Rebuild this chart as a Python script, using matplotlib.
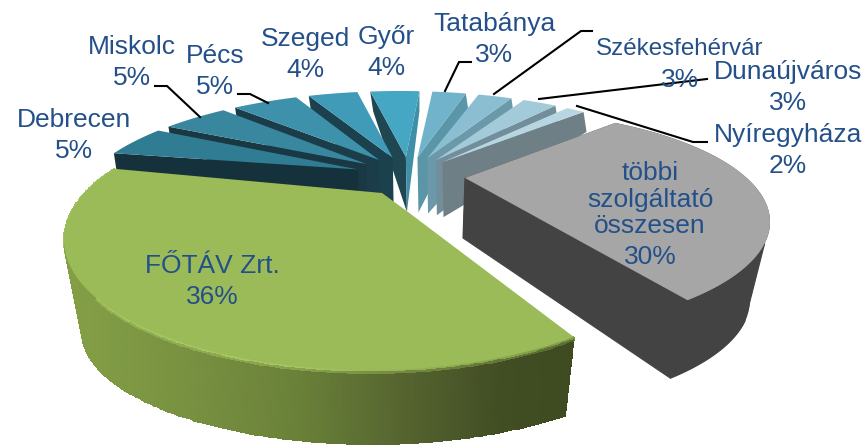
import numpy as np
import matplotlib
matplotlib.use("Agg")
import matplotlib.pyplot as plt

plt.rcParams['font.family'] = ['Liberation Sans', 'DejaVu Sans']

# ---- data -------------------------------------------------------------
categories = ['Tatabánya', 'Székesfehérvár', 'Dunaújváros', 'Nyíregyháza',
              'többi\nszolgáltató\nösszesen', 'FŐTÁV Zrt.', 'Debrecen', 'Miskolc',
              'Pécs', 'Szeged', 'Győr']
shares = [3, 3, 3, 2, 30, 36, 5, 5, 5, 4, 4]

# ---- styling ----------------------------------------------------------
top_colors = ['#70B3CB', '#8CBED1', '#A3CAD9', '#B8D6E1', '#A6A6A6', '#9BBB59',
              '#2F7C93', '#38879F', '#3E91AB', '#3F9BB7', '#46A7C4']
wall_colors = ['#5A95A8', '#6B99A9', '#718E9A', '#6E7F86', '#434343', '#5E6E30',
               '#15313B', '#193843', '#1B3D49', '#1C414E', '#204651']
text_color = '#24508A'
# x centre, baseline of the percentage line, name font size
label_x = [494, 680, 788, 788, 650, 212, 74, 132, 215, 305, 386]
label_base = [62, 87, 110, 173, 264, 304, 158, 85, 94, 77, 75]
name_size = [19, 17.4, 19, 19, 19, 19, 19, 19, 19, 19, 19]
leaders = [[(471, 62), (459, 62), (445, 91)],
           [(592, 31), (581, 31), (494, 94)],
           [(707, 79), (539, 99)],
           [(707, 142), (693, 142), (577, 106)],
           [(155, 86), (167, 86), (200, 117)],
           [(238, 94), (250, 94), (268, 103)]]

GREEN_TOP = dict(c=(370, 240), a=306, b=130, p=(0.14, -0.29), d=7, apex=(408, 212))
GREEN_BOT = dict(c=(372, 332), a=290, b=112, p=(0.14, -0.29), d=7)
GRAY_TOP = dict(c=(480, 222), a=290, b=112, p=(0.0, -0.37), d=0.5, apex=(465, 178))
GRAY_BOT = dict(c=(470, 300), a=280, b=112, p=(0.0, -0.37), d=0.5, apex=(463, 238))
SMALL = dict(c=(400, 215), a=330, b=124, p=(0.0, -0.28), d=6)
SMALL_CENTER = (407, 177)
SMALL_EXPLODE = (53, 20)
GAP = 1.5


def ring(theta, g):
    """Project pie angles (deg, clockwise from the top) on a perspective ellipse."""
    t = np.radians(np.asarray(theta, float) + g['d'])
    x, y = np.sin(t), -np.cos(t)
    p = np.array(g['p'])
    beta = np.hypot(*p)
    n = p / beta
    m = np.array([-n[1], n[0]])
    par = x * n[0] + y * n[1]
    perp = x * m[0] + y * m[1]
    den = 1 + beta * par
    par2 = (par + beta) / den
    perp2 = perp * np.sqrt(1 - beta ** 2) / den
    u = par2 * n[0] + perp2 * m[0]
    v = par2 * n[1] + perp2 * m[1]
    return g['c'][0] + g['a'] * u, g['c'][1] + g['b'] * v


fig = plt.figure(figsize=(8.66, 4.46), dpi=100)
ax = fig.add_axes([0, 0, 1, 1])
ax.set_xlim(0, 866)
ax.set_ylim(446, 0)
ax.axis('off')

edges = np.concatenate([[0], np.cumsum(shares)]) * 3.6
start = edges[:-1]
end = edges[1:]


def small_slice(i, wall_side):
    a0, a1 = start[i] + GAP, end[i] - GAP
    th = np.linspace(a0, a1, 14)
    ox, oy = ring(th, SMALL)
    mid = np.radians((start[i] + end[i]) / 2 + SMALL['d'])
    ax_, ay_ = (SMALL_CENTER[0] + SMALL_EXPLODE[0] * np.sin(mid),
                SMALL_CENTER[1] - SMALL_EXPLODE[1] * np.cos(mid))
    k = 0 if wall_side == 'start' else -1
    ax.fill([ox[k], ox[k] + 3, ax_ + 1, ax_], [oy[k], oy[k] + 20, ay_ + 55, ay_],
            color=wall_colors[i], lw=0, zorder=2)
    if categories[i] == 'Győr':  # the light sliver of its far wall
        ax.fill([ox[-1], ox[-1], ax_ + 1, ax_], [oy[-1], oy[-1] + 20, ay_ + 55, ay_],
                color='#3F8FA6', lw=0, zorder=2)
    ax.fill(np.r_[ax_, ox], np.r_[ay_, oy], color=top_colors[i], lw=0, zorder=2)


# far slices first, so nearer ones paint over their walls
for i in [10, 9, 8, 7, 6]:
    small_slice(i, 'start')
for i in [0, 1, 2, 3]:
    small_slice(i, 'end')


def hexrgb(h):
    return np.array(matplotlib.colors.to_rgb(h))


# ---- "többi" slice
i_gray = 4
th = np.linspace(start[i_gray], end[i_gray], 160)
gx, gy = ring(th, GRAY_TOP)
hx, hy = ring(th, GRAY_BOT)
ax0, ay0 = GRAY_TOP['apex']
bx0, by0 = GRAY_BOT['apex']
ax.fill(np.r_[ax0, gx, hx[::-1], bx0], np.r_[ay0, gy, hy[::-1], by0],
        color=wall_colors[i_gray], lw=0, zorder=3)
ax.fill([ax0, gx[-1], hx[-1], bx0], [ay0, gy[-1], hy[-1], by0], color=wall_colors[i_gray],
        lw=0.8, zorder=3)
ax.fill(gx[-40:].tolist() + hx[-40:][::-1].tolist(), gy[-40:].tolist() + hy[-40:][::-1].tolist(),
        color=wall_colors[i_gray], lw=0.8, zorder=3)
ax.fill(np.r_[ax0, gx], np.r_[ay0, gy], color=top_colors[i_gray], lw=0, zorder=4)

# ---- FŐTÁV slice
i_green = 5
wall_stops_x = [64, 200, 300, 400, 500, 580]
wall_stops = np.array([hexrgb(c) for c in ['#84A046', '#778F40', '#698038', '#566530',
                                           '#414D23', '#3E4A20']])
lip_stops_x = [64, 110, 300, 400, 500, 580]
lip_stops = np.array([hexrgb(c) for c in ['#A6CA5E', '#B2D369', '#B6D76D', '#A6C760',
                                          '#9BBB59', '#8AA84E']])
LIP_DEPTH = 0.08


def green_color(t, x):
    wall = np.array([np.interp(x, wall_stops_x, wall_stops[:, k]) for k in range(3)])
    lip = np.array([np.interp(x, lip_stops_x, lip_stops[:, k]) for k in range(3)])
    return lip + (wall - lip) * (t / LIP_DEPTH) if t < LIP_DEPTH else wall


rows, cols = 30, 180
th = np.linspace(start[i_green], end[i_green], cols + 1)
tx, ty = ring(th, GREEN_TOP)
bx, by = ring(th, GREEN_BOT)
T = np.linspace(0, 1, rows + 1)[:, None]
X = tx[None, :] * (1 - T) + bx[None, :] * T
Y = ty[None, :] * (1 - T) + by[None, :] * T
tc = ((T[:-1] + T[1:]) / 2).ravel()
C = np.array([[green_color(tc[r], (X[r, c] + X[r, c + 1]) / 2) for c in range(cols)]
              for r in range(rows)])
ax.pcolormesh(X, Y, C, shading='flat', edgecolors='face', linewidth=0.3, zorder=3)

ax1, ay1 = GREEN_TOP['apex']
th = np.linspace(start[i_green], end[i_green], 160)
gx, gy = ring(th, GREEN_TOP)
ax.fill(np.r_[ax1, gx, ax1 - 26], np.r_[ay1, gy, ay1 - 19], color=top_colors[i_green],
        lw=0, zorder=4)

# ---- leaders and labels
for pts in leaders:
    xs, ys = zip(*pts)
    ax.plot(xs, ys, color='black', lw=1.5, zorder=5, solid_joinstyle='miter')
for name, share, x, base, size in zip(categories, shares, label_x, label_base, name_size):
    ax.text(x, base, f'{share}%', ha='center', va='baseline', color=text_color,
            fontsize=19, zorder=6)
    ax.text(x, base - (32 if size < 19 else 31), name, ha='center',
            va='baseline', color=text_color, fontsize=size, linespacing=1.13, zorder=6)

fig.savefig('out.png', dpi=100)
